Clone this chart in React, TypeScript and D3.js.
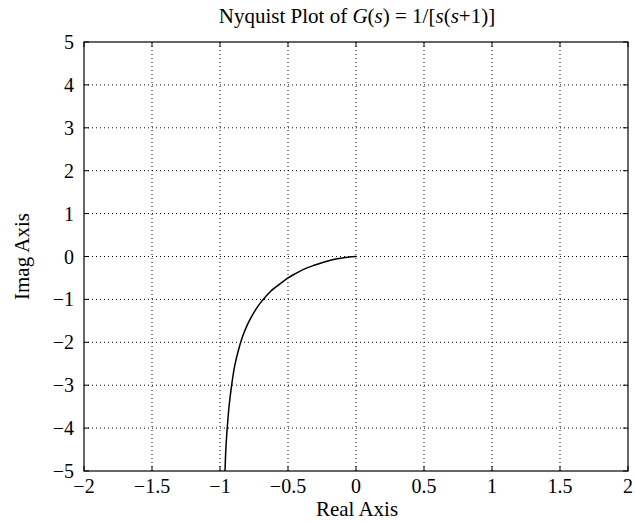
import React from 'react';
import * as d3 from 'd3';

// points (real, imag)
const realPart = [-0.963, -0.958, -0.95, -0.941, -0.932, -0.917, -0.892, -0.862, -0.832, -0.8, -0.768, -0.735, -0.703, -0.671, -0.64, -0.61, -0.552, -0.5, -0.45, -0.39, -0.308, -0.25, -0.2, -0.14, -0.1, -0.06, -0.038, -0.02, -0.01, 0];
const imagPart = [-5, -4.56, -4.13, -3.76, -3.45, -3.06, -2.55, -2.155, -1.85, -1.6, -1.4, -1.225, -1.08, -0.959, -0.853, -0.762, -0.62, -0.5, -0.407, -0.305, -0.205, -0.144, -0.1, -0.055, -0.033, -0.015, -0.0077, -0.003, -0.001, 0];
const xTicks = [-2, -1.5, -1, -0.5, 0, 0.5, 1, 1.5, 2];
const yTicks = [-5, -4, -3, -2, -1, 0, 1, 2, 3, 4, 5];

const W = 635;
const H = 523;
const margin = { left: 84, right: 7, top: 42, bottom: 52 };
const font = '"Liberation Serif", "Times New Roman", serif';

const fmt = (v: number) => (v < 0 ? '\u2212' + String(-v) : String(v));

export default function App() {
  const x = d3.scaleLinear().domain([-2, 2]).range([margin.left, W - margin.right]);
  const y = d3.scaleLinear().domain([-5, 5]).range([H - margin.bottom, margin.top]);
  const pts = realPart.map((r, i) => [r, imagPart[i]] as [number, number]);
  const line = d3.line<[number, number]>().x(d => x(d[0])).y(d => y(d[1])).curve(d3.curveCatmullRom);
  const x0 = x(-2), x1 = x(2), y0 = y(-5), y1 = y(5);
  const tl = 5;

  return (
    <svg width={W} height={H} style={{ position: 'absolute', left: 0, top: 0, background: '#fff' }} fontFamily={font}>
      <rect width={W} height={H} fill="#fff" />
      {/* grid */}
      {xTicks.slice(1, -1).map(t => (
        <line key={'gx' + t} x1={x(t)} x2={x(t)} y1={y0} y2={y1} stroke="#000" strokeWidth={1} strokeDasharray="1,3" />
      ))}
      {yTicks.slice(1, -1).map(t => (
        <line key={'gy' + t} x1={x0} x2={x1} y1={y(t)} y2={y(t)} stroke="#000" strokeWidth={1} strokeDasharray="1,3" />
      ))}
      {/* ticks */}
      {xTicks.map(t => (
        <g key={'tx' + t}>
          <line x1={x(t)} x2={x(t)} y1={y0} y2={y0 - tl} stroke="#000" />
          <line x1={x(t)} x2={x(t)} y1={y1} y2={y1 + tl} stroke="#000" />
          <text x={x(t)} y={y0 + 22} textAnchor="middle" fontSize={20}>{fmt(t)}</text>
        </g>
      ))}
      {yTicks.map(t => (
        <g key={'ty' + t}>
          <line x1={x0} x2={x0 + tl} y1={y(t)} y2={y(t)} stroke="#000" />
          <line x1={x1} x2={x1 - tl} y1={y(t)} y2={y(t)} stroke="#000" />
          <text x={x0 - 10} y={y(t) + 7} textAnchor="end" fontSize={20}>{fmt(t)}</text>
        </g>
      ))}
      <rect x={x0} y={y1} width={x1 - x0} height={y0 - y1} fill="none" stroke="#000" strokeWidth={1.2} />
      {/* curve */}
      <path d={line(pts) || ''} fill="none" stroke="#000" strokeWidth={1.5} />
      {/* labels */}
      <text x={357} y={23} textAnchor="middle" fontSize={21}>
        Nyquist Plot of <tspan fontStyle="italic">G</tspan>(<tspan fontStyle="italic">s</tspan>) = 1/[<tspan fontStyle="italic">s</tspan>(<tspan fontStyle="italic">s</tspan>+1)]
      </text>
      <text x={357} y={516} textAnchor="middle" fontSize={21}>Real Axis</text>
      <text transform={`translate(29,${(y0 + y1) / 2}) rotate(-90)`} textAnchor="middle" fontSize={21}>Imag Axis</text>
    </svg>
  );
}
